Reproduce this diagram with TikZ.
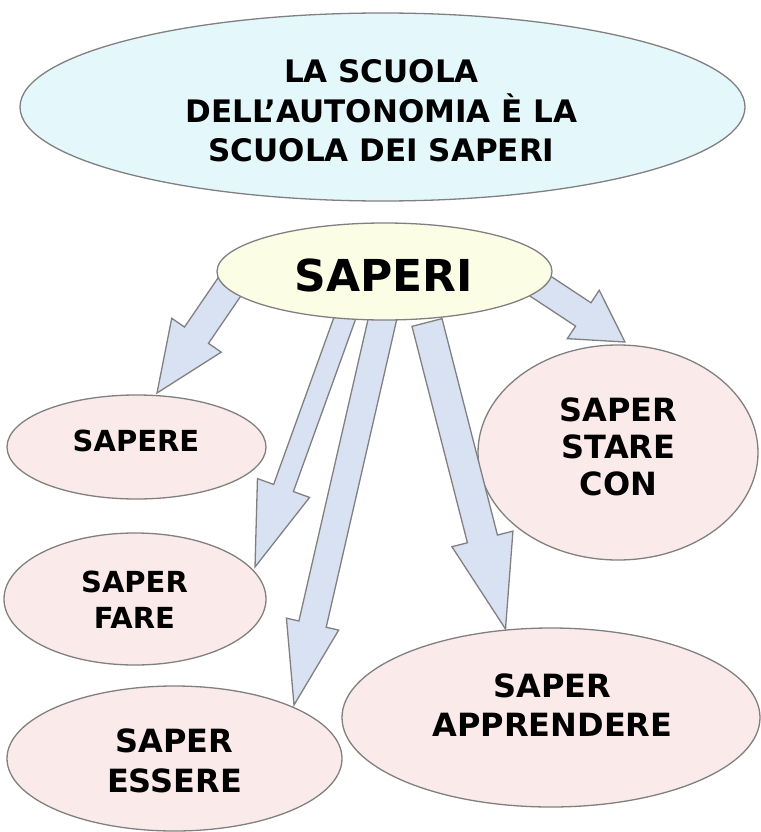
\documentclass[tikz,border=0pt]{standalone}
\usepackage{fontspec}
\setmainfont{DejaVu Sans}
\usetikzlibrary{shapes.geometric,calc}
\definecolor{strokegray}{HTML}{808080}
\definecolor{topfill}{HTML}{E4F8FC}
\definecolor{saperifill}{HTML}{FBFDE5}
\definecolor{pinkfill}{HTML}{FBEAEA}
\definecolor{arrowfill}{HTML}{D9E2F2}
\newcommand{\myfs}[2]{\fontsize{#1}{#2}\selectfont\bfseries}
% #1 start, #2 tip, #3 half shaft width, #4 half head width, #5 head length
\newcommand{\fatarrow}[5]{%
  \path ($(#2)!#5!(#1)$) coordinate (fab);
  \draw[fatstyle] ($(#1)!#3!90:(#2)$) -- ($(fab)!#3!90:(#2)$) -- ($(fab)!#4!90:(#2)$) -- (#2)
    -- ($(fab)!#4!-90:(#2)$) -- ($(fab)!#3!-90:(#2)$) -- ($(#1)!#3!-90:(#2)$) -- cycle;
}
\begin{document}
\begin{tikzpicture}[x=1pt,y=-1pt,
  ell/.style={ellipse,draw=strokegray,line width=1.3pt,inner sep=0pt},
  lbl/.style={inner sep=0pt,align=center,text=black},
  fatstyle/.style={draw=strokegray,fill=arrowfill,line width=1.3pt,line join=miter}]
\useasboundingbox (0,0) rectangle (760,832);
% ellipses
\node[ell,fill=topfill,minimum width=725pt,minimum height=188pt] (top) at (382.5,107) {};
\node[ell,fill=pinkfill,minimum width=259pt,minimum height=104pt] (sapere) at (136.5,447) {};
\node[ell,fill=pinkfill,minimum width=262pt,minimum height=132pt] (fare) at (135,599) {};
\node[ell,fill=pinkfill,minimum width=280pt,minimum height=215pt] (stare) at (618,452.5) {};
\node[ell,fill=pinkfill,minimum width=335pt,minimum height=145pt] (essere) at (174.5,758.5) {};
\node[ell,fill=pinkfill,minimum width=418pt,minimum height=179pt] (apprendere) at (551,717.5) {};
% arrow coordinates
\coordinate (a1s) at (240,271.5); \coordinate (a1e) at (157,393);
\coordinate (a2s) at (525,276);   \coordinate (a2e) at (625,342);
\coordinate (a3s) at (351,301);   \coordinate (a3e) at (255,567);
\coordinate (a4s) at (386.5,301.5); \coordinate (a4e) at (294,705);
\coordinate (a5s) at (427,322.5); \coordinate (a5e) at (505.5,629);
\fatarrow{a1s}{a1e}{14.5pt}{30pt}{70pt}
\fatarrow{a2s}{a2e}{14pt}{29pt}{50pt}
\fatarrow{a3s}{a3e}{10.5pt}{27.7pt}{84pt}
\fatarrow{a4s}{a4e}{14pt}{26.8pt}{83pt}
\fatarrow{a5s}{a5e}{15.5pt}{31.5pt}{93pt}
\node[ell,fill=saperifill,minimum width=335pt,minimum height=97pt] (saperi) at (384.5,271.5) {};
% texts
\node[lbl,font=\myfs{31}{39.5}] (toptext) at (381.5,111) {LA SCUOLA\\DELL’AUTONOMIA È LA\\SCUOLA DEI SAPERI};
\node[lbl,font=\myfs{44}{50}] (saperitext) at (383.5,275.5) {SAPERI};
\node[lbl,font=\myfs{29}{36}] (saperetext) at (136,440.5) {SAPERE};
\node[lbl,font=\myfs{29}{36}] (faretext) at (134.5,600) {SAPER\\FARE};
\node[lbl,font=\myfs{32}{37}] (staretext) at (618.5,447) {SAPER\\STARE\\CON};
\node[lbl,font=\myfs{32}{40}] (esseretext) at (174.5,760.5) {SAPER\\ESSERE};
\node[lbl,font=\myfs{32}{39}] (apprenderetext) at (552.5,705.5) {SAPER\\APPRENDERE};
\end{tikzpicture}
\end{document}
